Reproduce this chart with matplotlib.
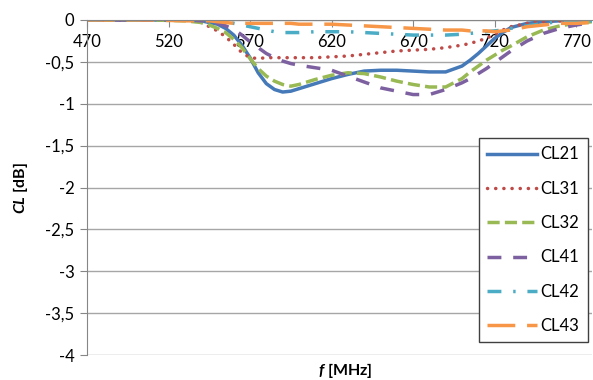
import matplotlib
matplotlib.use("Agg")
import matplotlib.pyplot as plt

# Frequency grid [MHz]
freq = [470, 490, 510, 530, 540, 545, 550, 555, 560, 565, 570, 575, 580, 585,
        590, 595, 600, 610, 620, 630, 640, 650, 660, 670, 680, 690, 700, 705,
        710, 715, 720, 725, 730, 740, 750, 760, 770, 780]

# Coupling losses [dB]
cl21 = [0, 0, 0, 0, -0.01, -0.03, -0.05, -0.10, -0.18, -0.30, -0.45, -0.63, -0.76, -0.83,
        -0.86, -0.85, -0.82, -0.76, -0.70, -0.65, -0.61, -0.60, -0.60, -0.61, -0.62, -0.62, -0.55, -0.48,
        -0.40, -0.31, -0.22, -0.15, -0.09, -0.04, -0.02, -0.01, 0, 0]
cl31 = [0, 0, 0, 0, -0.03, -0.08, -0.13, -0.20, -0.29, -0.39, -0.45, -0.46, -0.45, -0.45,
        -0.45, -0.45, -0.45, -0.45, -0.44, -0.43, -0.41, -0.39, -0.37, -0.36, -0.35, -0.33, -0.30, -0.28,
        -0.25, -0.22, -0.17, -0.12, -0.08, -0.04, -0.02, -0.01, 0, 0]
cl32 = [0, 0, 0, -0.01, -0.03, -0.06, -0.10, -0.15, -0.23, -0.33, -0.46, -0.58, -0.67, -0.73,
        -0.77, -0.79, -0.77, -0.71, -0.66, -0.63, -0.64, -0.68, -0.73, -0.77, -0.80, -0.80, -0.70, -0.62,
        -0.55, -0.48, -0.42, -0.36, -0.31, -0.20, -0.12, -0.07, -0.04, -0.02]
cl41 = [0, 0, 0, 0, -0.01, -0.02, -0.04, -0.07, -0.11, -0.18, -0.26, -0.33, -0.40, -0.45,
        -0.49, -0.52, -0.54, -0.57, -0.60, -0.67, -0.74, -0.81, -0.85, -0.89, -0.89, -0.83, -0.75, -0.70,
        -0.64, -0.58, -0.51, -0.44, -0.37, -0.25, -0.16, -0.10, -0.06, -0.03]
cl42 = [0, 0, 0, 0, 0, 0, 0, -0.02, -0.04, -0.06, -0.08, -0.10, -0.12, -0.14,
        -0.15, -0.15, -0.15, -0.14, -0.14, -0.14, -0.15, -0.16, -0.17, -0.18, -0.18, -0.18, -0.17, -0.16,
        -0.15, -0.14, -0.13, -0.12, -0.10, -0.07, -0.04, -0.02, -0.01, -0.01]
cl43 = [0, 0, 0, -0.01, -0.01, -0.01, -0.02, -0.03, -0.04, -0.04, -0.04, -0.04, -0.04, -0.04,
        -0.04, -0.04, -0.05, -0.05, -0.05, -0.06, -0.07, -0.08, -0.09, -0.10, -0.11, -0.12, -0.12, -0.13,
        -0.13, -0.13, -0.14, -0.13, -0.12, -0.08, -0.06, -0.04, -0.04, -0.03]

series_names = ["CL21", "CL31", "CL32", "CL41", "CL42", "CL43"]

x_ticks = [470, 520, 570, 620, 670, 720, 770]
y_ticks = [0, -0.5, -1, -1.5, -2, -2.5, -3, -3.5, -4]
y_tick_labels = ["0", "-0,5", "-1", "-1,5", "-2", "-2,5", "-3", "-3,5", "-4"]

plt.rcParams["font.family"] = ["Lato", "DejaVu Sans"]
plt.rcParams["mathtext.fontset"] = "custom"
plt.rcParams["mathtext.rm"] = "Lato"
plt.rcParams["mathtext.it"] = "Lato:italic"
plt.rcParams["mathtext.bf"] = "Lato:bold"
plt.rcParams["mathtext.bfit"] = "Lato:bold:italic"

fig = plt.figure(figsize=(5.93, 3.80), dpi=100)
ax = fig.add_axes([87 / 593, 1 - 355 / 380, 1 - 87 / 593 - 0.001, (355 - 20) / 380])

lw = 2.5
styles = [
    dict(color="#4579B8", linestyle="-"),
    dict(color="#BE4B48", linestyle=(0, (0.05, 2.3)), dash_capstyle="round"),
    dict(color="#98B954", linestyle=(0, (3.5, 1.5))),
    dict(color="#7D60A0", linestyle=(0, (4, 3.4))),
    dict(color="#4AACC5", linestyle=(0, (4, 3.4, 0.7, 3.4))),
    dict(color="#F79646", linestyle=(0, (8, 3.4))),
]
for name, vals, st in zip(series_names, [cl21, cl31, cl32, cl41, cl42, cl43], styles):
    ax.plot(freq, vals, lw=lw, label=name, **st)

ax.set_xlim(470, 780)
ax.set_ylim(-4, 0)

grid_c = "#A6A6A6"
axis_c = "#868686"
ax.set_yticks(y_ticks)
ax.set_yticklabels(y_tick_labels)
ax.set_xticks(x_ticks)
ax.yaxis.grid(True, color=grid_c, lw=1)
ax.set_axisbelow(True)

ax.spines["bottom"].set_position(("data", 0))
ax.spines["bottom"].set_color(axis_c)
ax.spines["left"].set_color(axis_c)
ax.spines["top"].set_visible(False)
ax.spines["right"].set_visible(False)
ax.tick_params(axis="x", direction="out", length=5, color=axis_c, pad=5,
               labelsize=12, labelcolor="#000000")
ax.tick_params(axis="y", direction="out", length=5, color=axis_c, pad=4,
               labelsize=12, labelcolor="#000000")

fig.text(345 / 593, 1 - 371 / 380, r"$\bfit{f}$ [MHz]", ha="center", va="center",
         fontsize=11.5, fontweight="bold")
fig.text(20 / 593, 1 - 188 / 380, r"$\bfit{CL}$ [dB]", ha="center", va="center",
         rotation=90, fontsize=11.5, fontweight="bold")

leg = ax.legend(loc="upper left", bbox_to_anchor=(479 / 593, 1 - 138 / 380),
                bbox_transform=fig.transFigure, borderaxespad=0, fontsize=12,
                handlelength=3.0, handletextpad=0.2, labelspacing=1.1,
                borderpad=0.5, fancybox=False, framealpha=1)
leg.get_frame().set_edgecolor("#404040")
leg.get_frame().set_linewidth(1.0)

fig.savefig("out.png", dpi=100)
